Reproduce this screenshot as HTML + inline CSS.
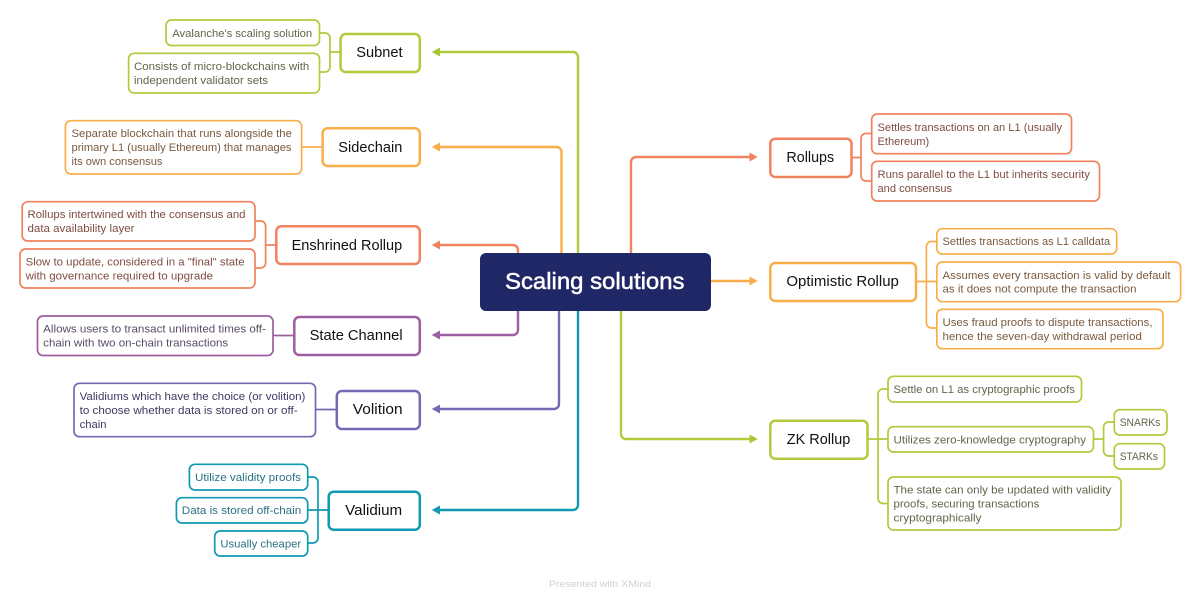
<!DOCTYPE html>
<html><head><meta charset="utf-8"><title>Scaling solutions</title>
<style>
html,body{margin:0;padding:0;background:#fff;width:1200px;height:603px;overflow:hidden}
svg{display:block}
text{font-family:"Liberation Sans",sans-serif}
.n{font-size:14.5px;fill:#111}
.s{font-size:11.4px}
.c{fill:none;stroke-linejoin:round}
.node{fill:#fff;stroke-width:2.5}
.sub{fill:#fff;stroke-width:1.7}
.g{stroke:#b0cb3c}.gf{fill:#a9c733}.gt{fill:#63654a}
.o{stroke:#f9ae4b}.of{fill:#f9ae4b}.ot{fill:#7a5a3e}
.r{stroke:#f0825f}.rf{fill:#f0825f}.rt{fill:#7f4d42}
.p{stroke:#9c5f9f}.pf{fill:#9c5f9f}.pt{fill:#5a4a64}
.i{stroke:#7768b4}.if{fill:#7768b4}.it{fill:#3c3a62}
.t{stroke:#0f9ab2}.tf{fill:#0f9ab2}.tt{fill:#2b7186}
</style></head><body>
<svg width="1200" height="603" viewBox="0 0 1200 603" xmlns="http://www.w3.org/2000/svg">
<rect width="1200" height="603" fill="#fff"/>

<!-- main connectors -->
<g class="c" stroke-width="2.4">
<path class="g" d="M578 255V57a5 5 0 0 0-5-5H438"/>
<path class="o" d="M561.500 255V152a5 5 0 0 0-5-5H438"/>
<path class="r" d="M518 255V250a5 5 0 0 0-5-5H438"/>
<path class="p" d="M518 309V330a5 5 0 0 1-5 5H438"/>
<path class="i" d="M559 309V404a5 5 0 0 1-5 5H438"/>
<path class="t" d="M578 309V505a5 5 0 0 1-5 5H438"/>
<path class="r" d="M631 255V162a5 5 0 0 1 5-5H750"/>
<path class="o" d="M709 281H750"/>
<path class="g" d="M621 309V434a5 5 0 0 0 5 5H750"/>
</g>
<polygon class="gf" points="431.700,52 440,47.500 440,56.500"/>
<polygon class="of" points="431.700,147 440,142.500 440,151.500"/>
<polygon class="rf" points="431.700,245 440,240.500 440,249.500"/>
<polygon class="pf" points="431.700,335 440,330.500 440,339.500"/>
<polygon class="if" points="431.700,409 440,404.500 440,413.500"/>
<polygon class="tf" points="431.700,510 440,505.500 440,514.500"/>
<polygon class="rf" points="757.700,157 749.500,152.500 749.500,161.500"/>
<polygon class="of" points="757.700,281 749.500,276.500 749.500,285.500"/>
<polygon class="gf" points="757.700,439 749.500,434.500 749.500,443.500"/>

<!-- child connectors -->
<g class="c" stroke-width="1.7">
<path class="g" d="M319 33h6a5 5 0 0 1 5 5V67a5 5 0 0 1-5 5h-6M330 52h11"/>
<path class="o" d="M301 147h22"/>
<path class="r" d="M255 221h5.600a5 5 0 0 1 5 5V263a5 5 0 0 1-5 5H255M265.600 245H277"/>
<path class="p" d="M273 335.500h22"/>
<path class="i" d="M315 409.500h22"/>
<path class="t" d="M307 477h6a5 5 0 0 1 5 5V538a5 5 0 0 1-5 5h-6M307 510h22"/>
<path class="r" d="M872 133.500h-6a5 5 0 0 0-5 5V176a5 5 0 0 0 5 5h6M851 157.500h10"/>
<path class="o" d="M937 241.500h-5.600a5 5 0 0 0-5 5V323a5 5 0 0 0 5 5H937M916 281.500h21"/>
<path class="g" d="M888 389h-5a5 5 0 0 0-5 5V498.500a5 5 0 0 0 5 5h5M867 439h21"/>
<path class="g" d="M1114.300 422h-5.700a5 5 0 0 0-5 5V451a5 5 0 0 0 5 5h5.700M1093.500 439h10"/>
</g>

<!-- central -->
<rect x="480" y="253" width="231" height="58" rx="6" fill="#1f2766"/>
<text x="505" y="289" font-size="23" fill="#fff" stroke="#fff" stroke-width="0.5" textLength="179.500" lengthAdjust="spacingAndGlyphs">Scaling solutions</text>

<!-- main nodes -->
<rect class="node g" x="340.600" y="34" width="79.200" height="38" rx="5"/>
<rect class="node o" x="322.600" y="128.300" width="97.200" height="37.700" rx="5"/>
<rect class="node r" x="276.300" y="226.300" width="143.500" height="37.700" rx="5"/>
<rect class="node p" x="294.300" y="317" width="125.500" height="38" rx="5"/>
<rect class="node i" x="336.800" y="391" width="83" height="38" rx="5"/>
<rect class="node t" x="328.700" y="491.700" width="91.100" height="38" rx="5"/>
<rect class="node r" x="770.300" y="138.700" width="81.200" height="38.300" rx="5"/>
<rect class="node o" x="770.300" y="263" width="145.700" height="38" rx="5"/>
<rect class="node g" x="770.300" y="420.700" width="97.200" height="38" rx="5"/>

<text class="n" x="356.300" y="57" textLength="46.300" lengthAdjust="spacingAndGlyphs">Subnet</text>
<text class="n" x="338.300" y="152" textLength="64" lengthAdjust="spacingAndGlyphs">Sidechain</text>
<text class="n" x="291.600" y="250" textLength="110.600" lengthAdjust="spacingAndGlyphs">Enshrined Rollup</text>
<text class="n" x="309.600" y="340" textLength="93" lengthAdjust="spacingAndGlyphs">State Channel</text>
<text class="n" x="352.800" y="414" textLength="49.800" lengthAdjust="spacingAndGlyphs">Volition</text>
<text class="n" x="345.200" y="515" textLength="57" lengthAdjust="spacingAndGlyphs">Validium</text>
<text class="n" x="786.400" y="162" textLength="47.800" lengthAdjust="spacingAndGlyphs">Rollups</text>
<text class="n" x="786.400" y="286" textLength="112.500" lengthAdjust="spacingAndGlyphs">Optimistic Rollup</text>
<text class="n" x="786.800" y="444" textLength="63.500" lengthAdjust="spacingAndGlyphs">ZK Rollup</text>

<!-- sub boxes -->
<rect class="sub g" x="166" y="20" width="153.500" height="25.500" rx="5.500"/>
<rect class="sub g" x="128.600" y="53.300" width="190.900" height="39.700" rx="5.500"/>
<rect class="sub o" x="65.400" y="120.700" width="236.200" height="53.300" rx="5.500"/>
<rect class="sub r" x="22.200" y="201.700" width="232.800" height="39.300" rx="5.500"/>
<rect class="sub r" x="20" y="249" width="235" height="39" rx="5.500"/>
<rect class="sub p" x="37.500" y="316" width="235.500" height="39.500" rx="5.500"/>
<rect class="sub i" x="74" y="383.300" width="241.500" height="53.400" rx="5.500"/>
<rect class="sub t" x="189.400" y="464.300" width="118.300" height="25.700" rx="5.500"/>
<rect class="sub t" x="176.400" y="497.700" width="131.300" height="25.300" rx="5.500"/>
<rect class="sub t" x="214.700" y="531" width="93" height="25" rx="5.500"/>
<rect class="sub r" x="871.700" y="114" width="199.800" height="39.700" rx="5.500"/>
<rect class="sub r" x="871.700" y="161.300" width="227.800" height="39.700" rx="5.500"/>
<rect class="sub o" x="936.800" y="228.700" width="179.900" height="25.300" rx="5.500"/>
<rect class="sub o" x="936.800" y="262" width="243.800" height="39.700" rx="5.500"/>
<rect class="sub o" x="936.800" y="309.300" width="226.200" height="39.400" rx="5.500"/>
<rect class="sub g" x="888" y="376.300" width="193.500" height="25.700" rx="5.500"/>
<rect class="sub g" x="888" y="426.700" width="205.500" height="25.300" rx="5.500"/>
<rect class="sub g" x="888" y="477" width="233" height="53" rx="5.500"/>
<rect class="sub g" x="1114.300" y="409.700" width="52.700" height="25.300" rx="5.500"/>
<rect class="sub g" x="1114.300" y="443.700" width="50.200" height="25.300" rx="5.500"/>

<!-- sub text -->
<g class="s">
<text class="gt" x="172.200" y="37" textLength="140" lengthAdjust="spacingAndGlyphs">Avalanche's scaling solution</text>
<text class="gt" x="134" y="70" textLength="175.300" lengthAdjust="spacingAndGlyphs">Consists of micro-blockchains with</text>
<text class="gt" x="134" y="84" textLength="134" lengthAdjust="spacingAndGlyphs">independent validator sets</text>
<text class="ot" x="71.500" y="137" textLength="220.400" lengthAdjust="spacingAndGlyphs">Separate blockchain that runs alongside the</text>
<text class="ot" x="71.500" y="151" textLength="220" lengthAdjust="spacingAndGlyphs">primary L1 (usually Ethereum) that manages</text>
<text class="ot" x="71.500" y="165" textLength="91" lengthAdjust="spacingAndGlyphs">its own consensus</text>
<text class="rt" x="27.500" y="218" textLength="218" lengthAdjust="spacingAndGlyphs">Rollups intertwined with the consensus and</text>
<text class="rt" x="27.500" y="232" textLength="107" lengthAdjust="spacingAndGlyphs">data availability layer</text>
<text class="rt" x="25.600" y="265.500" textLength="219" lengthAdjust="spacingAndGlyphs">Slow to update, considered in a "final" state</text>
<text class="rt" x="25.600" y="279.500" textLength="187.500" lengthAdjust="spacingAndGlyphs">with governance required to upgrade</text>
<text class="pt" x="43.200" y="332.700" textLength="222.700" lengthAdjust="spacingAndGlyphs">Allows users to transact unlimited times off-</text>
<text class="pt" x="43.200" y="346.700" textLength="185" lengthAdjust="spacingAndGlyphs">chain with two on-chain transactions</text>
<text class="it" x="79.600" y="400" textLength="225.800" lengthAdjust="spacingAndGlyphs">Validiums which have the choice (or volition)</text>
<text class="it" x="79.600" y="414" textLength="218" lengthAdjust="spacingAndGlyphs">to choose whether data is stored on or off-</text>
<text class="it" x="79.600" y="428" textLength="27" lengthAdjust="spacingAndGlyphs">chain</text>
<text class="tt" x="195" y="481" textLength="106" lengthAdjust="spacingAndGlyphs">Utilize validity proofs</text>
<text class="tt" x="181.800" y="514" textLength="119.400" lengthAdjust="spacingAndGlyphs">Data is stored off-chain</text>
<text class="tt" x="220.400" y="547.500" textLength="80.700" lengthAdjust="spacingAndGlyphs">Usually cheaper</text>
<text class="rt" x="877.500" y="131" textLength="184.500" lengthAdjust="spacingAndGlyphs">Settles transactions on an L1 (usually</text>
<text class="rt" x="877.500" y="145" textLength="51.700" lengthAdjust="spacingAndGlyphs">Ethereum)</text>
<text class="rt" x="877.500" y="178" textLength="212.400" lengthAdjust="spacingAndGlyphs">Runs parallel to the L1 but inherits security</text>
<text class="rt" x="877.500" y="192" textLength="74.600" lengthAdjust="spacingAndGlyphs">and consensus</text>
<text class="ot" x="942.500" y="245" textLength="167.600" lengthAdjust="spacingAndGlyphs">Settles transactions as L1 calldata</text>
<text class="ot" x="942.500" y="279" textLength="228" lengthAdjust="spacingAndGlyphs">Assumes every transaction is valid by default</text>
<text class="ot" x="942.500" y="292.500" textLength="194" lengthAdjust="spacingAndGlyphs">as it does not compute the transaction</text>
<text class="ot" x="942.500" y="326" textLength="210" lengthAdjust="spacingAndGlyphs">Uses fraud proofs to dispute transactions,</text>
<text class="ot" x="942.500" y="340" textLength="199.400" lengthAdjust="spacingAndGlyphs">hence the seven-day withdrawal period</text>
<text class="gt" x="893.500" y="393" textLength="181.400" lengthAdjust="spacingAndGlyphs">Settle on L1 as cryptographic proofs</text>
<text class="gt" x="893.500" y="443.500" textLength="192.500" lengthAdjust="spacingAndGlyphs">Utilizes zero-knowledge cryptography</text>
<text class="gt" x="893.500" y="493.500" textLength="217.800" lengthAdjust="spacingAndGlyphs">The state can only be updated with validity</text>
<text class="gt" x="893.500" y="507.500" textLength="145.800" lengthAdjust="spacingAndGlyphs">proofs, securing transactions</text>
<text class="gt" x="893.500" y="521.500" textLength="88" lengthAdjust="spacingAndGlyphs">cryptographically</text>
<text class="gt" x="1119.700" y="426" textLength="40.600" lengthAdjust="spacingAndGlyphs">SNARKs</text>
<text class="gt" x="1119.700" y="460" textLength="38.300" lengthAdjust="spacingAndGlyphs">STARKs</text>
</g>

<text x="549" y="587" font-size="9.500" fill="#d0d0d0" textLength="102" lengthAdjust="spacingAndGlyphs">Presented with XMind</text>
</svg>
</body></html>
